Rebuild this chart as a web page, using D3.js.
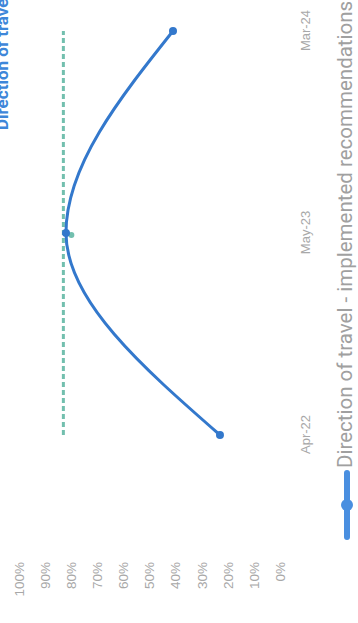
<!DOCTYPE html>
<html>
<head>
<meta charset="utf-8">
<script src="https://cdn.jsdelivr.net/npm/d3@7"></script>
<style>
  html, body { margin: 0; padding: 0; background: #fff; overflow: hidden; }
  svg { display: block; font-family: Roboto, "Open Sans", sans-serif; }
</style>
</head>
<body>
<svg id="chart" width="358" height="623"></svg>
<script>
// chart values
const months = ['Apr-22', 'May-23', 'Mar-24'];
const implemented = [23, 82, 41];
const target = [83, 83, 83];
const pctTicks = [0, 10, 20, 30, 40, 50, 60, 70, 80, 90, 100];

const titleText = 'Direction of travel - Recommendations implemented';
const legendText = 'Direction of travel - implemented recommendations';

// the whole chart is drawn landscape and turned a quarter turn
const W = 623, H = 358;

const svg = d3.select('#chart');
const g = svg.append('g')
  .attr('transform', 'translate(0,' + W + ') rotate(-90)');

const xScale = d3.scalePoint()
  .domain(months)
  .range([188, 592]);

const yScale = d3.scaleLinear()
  .domain([0, 100])
  .range([280, 19]);

// title, mostly cut off at the edge
g.append('text')
  .attr('x', 493)
  .attr('y', 8)
  .attr('fill', '#3d87d9')
  .style('font-size', '17px')
  .style('font-weight', 'bold')
  .text(titleText);

// y axis labels
const yAxis = d3.axisLeft(yScale)
  .tickValues(pctTicks)
  .tickFormat(d => d + '%')
  .tickSize(0)
  .tickPadding(0);

const yg = g.append('g')
  .attr('transform', 'translate(61,0)')
  .call(yAxis);
yg.select('.domain').remove();
yg.selectAll('text')
  .attr('fill', '#a8a8a8')
  .style('font-size', '13.5px');

// x axis labels
const xAxis = d3.axisBottom(xScale)
  .tickSize(0)
  .tickPadding(0);

const xg = g.append('g')
  .attr('transform', 'translate(0,301)')
  .call(xAxis);
xg.select('.domain').remove();
xg.selectAll('text')
  .attr('fill', '#a8a8a8')
  .style('font-size', '13px');

// target dashed line
const targetLine = d3.line()
  .x((d, i) => xScale(months[i]))
  .y(d => yScale(d));

g.append('path')
  .datum(target)
  .attr('fill', 'none')
  .attr('stroke', '#72bfae')
  .attr('stroke-width', 3)
  .attr('stroke-dasharray', '5,3')
  .attr('d', targetLine);

g.append('circle')
  .attr('cx', xScale(months[1]) - 2)
  .attr('cy', yScale(target[1]) + 8)
  .attr('r', 3)
  .attr('fill', '#72bfae');

// implemented recommendations
const mainLine = d3.line()
  .curve(d3.curveMonotoneX)
  .x((d, i) => xScale(months[i]))
  .y(d => yScale(d));

g.append('path')
  .datum(implemented)
  .attr('fill', 'none')
  .attr('stroke', '#3378cc')
  .attr('stroke-width', 3)
  .attr('d', mainLine);

g.selectAll('.pt')
  .data(implemented)
  .enter()
  .append('circle')
    .attr('class', 'pt')
    .attr('cx', (d, i) => xScale(months[i]))
    .attr('cy', d => yScale(d))
    .attr('r', 4)
    .attr('fill', '#3378cc');

// legend
const lg = g.append('g')
  .attr('transform', 'translate(86,347)');

lg.append('line')
  .attr('x1', 0)
  .attr('x2', 64)
  .attr('stroke', '#4a8fe0')
  .attr('stroke-width', 6)
  .attr('stroke-linecap', 'round');

lg.append('circle')
  .attr('cx', 32)
  .attr('r', 6)
  .attr('fill', '#4a8fe0');

lg.append('text')
  .attr('x', 69)
  .attr('y', 5)
  .attr('fill', '#a0a0a0')
  .style('font-size', '20.5px')
  .text(legendText);
</script>
</body>
</html>
